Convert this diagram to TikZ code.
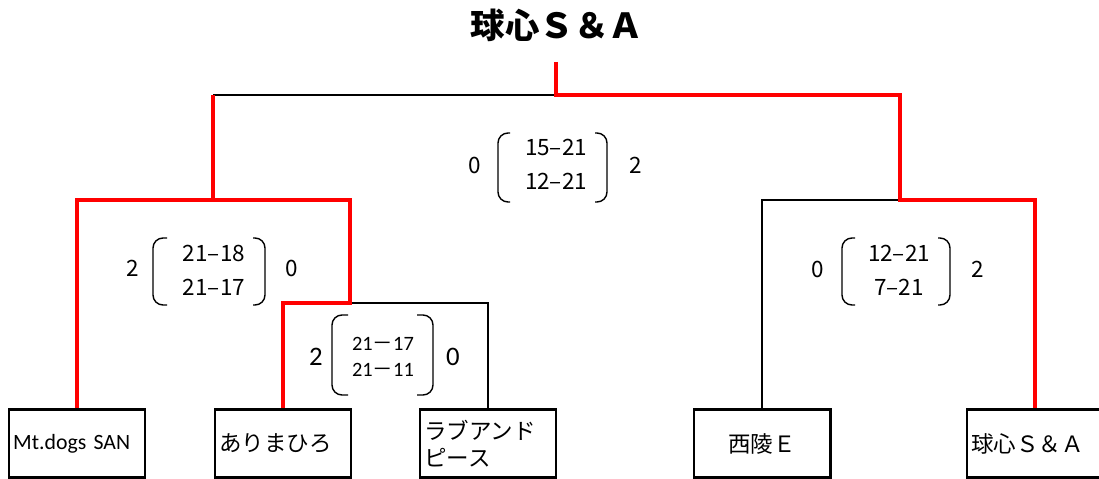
\documentclass[tikz,border=0pt]{standalone}
\usepackage{fontspec}
\setmainfont{Noto Sans CJK JP}
\newfontfamily\calib{Carlito}
\begin{document}
\begin{tikzpicture}[x=0.025cm,y=-0.025cm]

\tikzset{team/.style = {draw, line width=2.1pt, minimum width=3.4cm, minimum height=1.7cm, inner sep=3pt, text width=3.4cm-6pt, align=left, font=\fontsize{16}{19}\selectfont}}
\tikzset{win/.style = {red, line width=2.8pt}}
\tikzset{lose/.style = {black, line width=2.1pt}}
\tikzset{paren/.style = {line width=1pt, rounded corners=0.25cm}}
\tikzset{score/.style = {align=center, inner sep=0pt, font=\fontsize{16}{24}\selectfont}}
\tikzset{games/.style = {inner sep=0pt, font=\fontsize{16}{20}\selectfont}}
\useasboundingbox (0,0) rectangle (1099,479);

\node[font=\fontsize{24.5}{28}\selectfont\bfseries] (champ) at (557,25) {球心Ｓ＆Ａ};
\coordinate (top) at (556,62);

\node[team, inner sep=1.5pt, font=\calib\fontsize{15.5}{18}\selectfont] (b1) at (77,443.5) {Mt.dogs SAN};
\node[team] (b2) at (283,443.5) {ありまひろ};
\node[team] (b3) at (488,443.5) {ラブアンド\\ピース};
\node[team, align=center] (b4) at (762,443.5) {西陵Ｅ};
\node[team] (b5) at (1035,443.5) {球心Ｓ＆Ａ};

\coordinate (f) at (556,95);
\coordinate (fl) at (213,95);
\coordinate (sl) at (213,200);
\coordinate (sr) at (900,200);
\coordinate (q) at (350,303);

\draw[lose] (f) -- (fl);
\draw[lose] (sr) -| (b4.north);
\draw[lose] (q) -| (b3.north);
\draw[win] (top) -- (f) -| (sr) -| (b5.north);
\draw[win] (fl) -- (sl) -| (b1.north);
\draw[win] (sl) -| (q) -| (b2.north);

% final
\node[score] (s1) at (556,164) {15–21\\12–21};
\node[games] (s1l) at (475,165) {0};
\node[games] (s1r) at (636,165) {2};
\draw[paren] (510,133) -- (498,133) -- (498,202) -- (510,202);
\draw[paren] (595,133) -- (607,133) -- (607,202) -- (595,202);

% semi left
\node[score] (s2) at (214,270) {21–18\\21–17};
\node[games] (s2l) at (133,268) {2};
\node[games] (s2r) at (292,268) {0};
\draw[paren] (167,238) -- (153,238) -- (153,305) -- (167,305);
\draw[paren] (253,238) -- (265,238) -- (265,305) -- (253,305);

% quarter
\node[score, font=\fontsize{14.5}{19}\selectfont] (s3) at (383,357) {{\calib 21}－{\calib 17}\\{\calib 21}－{\calib 11}};
\node[games, font=\calib\fontsize{19}{22}\selectfont] (s3l) at (316,357) {2};
\node[games, font=\calib\fontsize{19}{22}\selectfont] (s3r) at (453,357) {0};
\draw[paren] (348,315) -- (332,315) -- (332,395) -- (348,395);
\draw[paren] (417,315) -- (433,315) -- (433,395) -- (417,395);

% semi right
\node[score] (s4) at (899,270) {12–21\\7–21};
\node[games] (s4l) at (818,269) {0};
\node[games] (s4r) at (978,269) {2};
\draw[paren] (855,238) -- (842,238) -- (842,305) -- (855,305);
\draw[paren] (938,238) -- (950,238) -- (950,305) -- (938,305);
\end{tikzpicture}
\end{document}
